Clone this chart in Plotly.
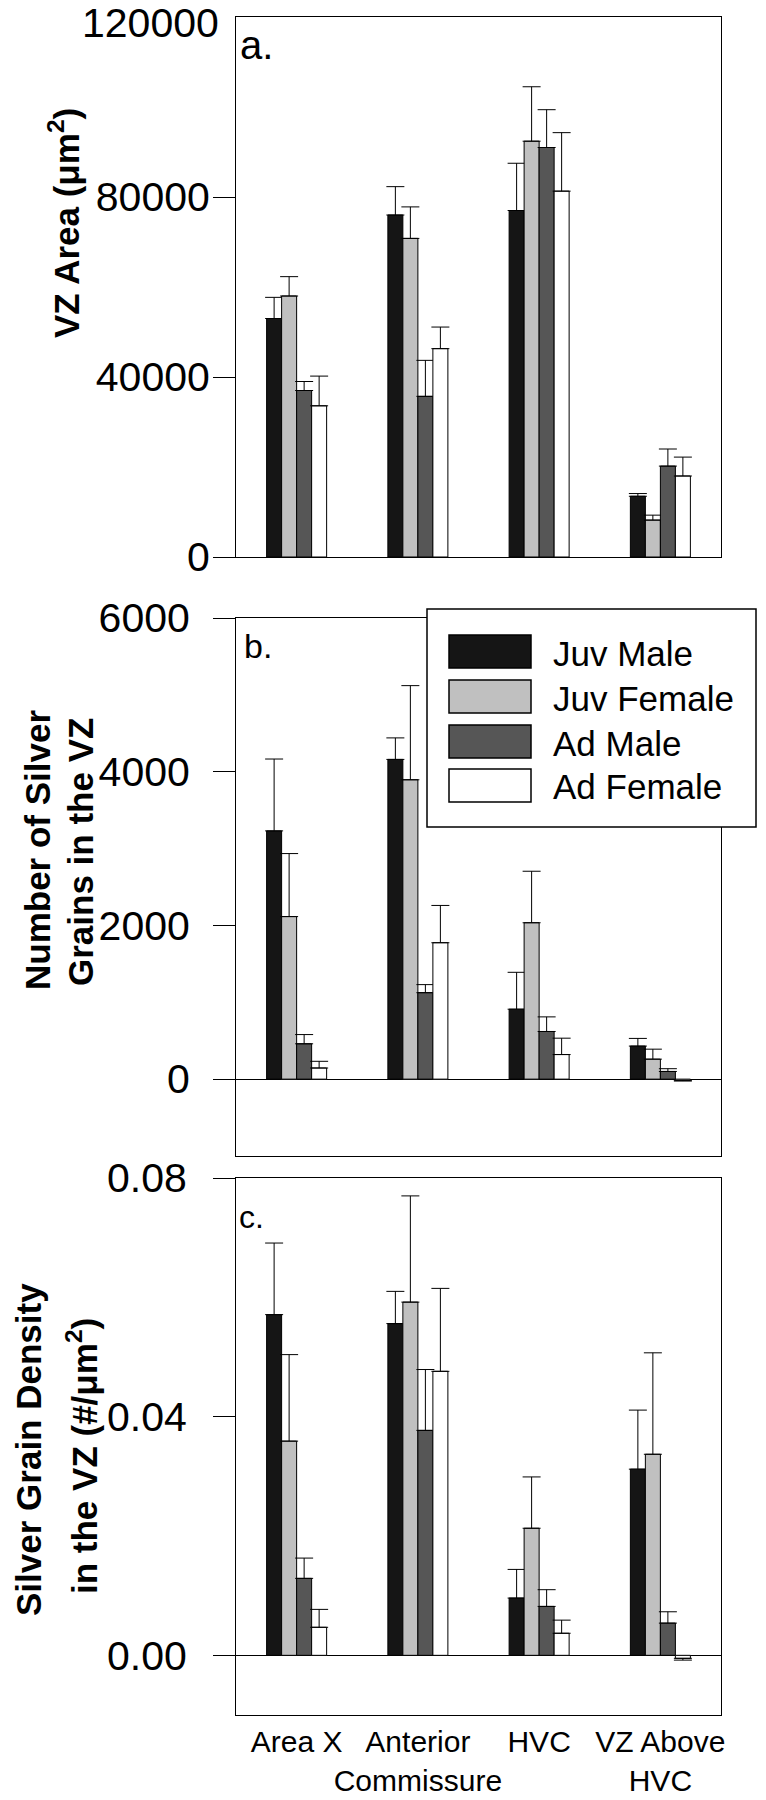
import plotly.graph_objects as go

# ---------------- data ----------------
categories = ["Area X", "Anterior Commissure", "HVC", "VZ Above HVC"]
tick_labels = ["Area X", "Anterior<br>Commissure", "HVC", "VZ Above<br>HVC"]
groups = ["Juv Male", "Juv Female", "Ad Male", "Ad Female"]

# Panel a: VZ area (um^2)
area_juv_male = [53000, 76000, 77000, 13500]
area_juv_male_err = [4700, 6300, 10500, 600]
area_juv_female = [58000, 70800, 92400, 8200]
area_juv_female_err = [4300, 7000, 12100, 1100]
area_ad_male = [37000, 35700, 91000, 20200]
area_ad_male_err = [2000, 8000, 8400, 3800]
area_ad_female = [33600, 46300, 81300, 18000]
area_ad_female_err = [6600, 4800, 13000, 4200]

# Panel b: number of silver grains in the VZ
grains_juv_male = [3230, 4160, 910, 430]
grains_juv_male_err = [935, 280, 480, 100]
grains_juv_female = [2115, 3895, 2035, 260]
grains_juv_female_err = [820, 1225, 670, 130]
grains_ad_male = [460, 1125, 620, 100]
grains_ad_male_err = [120, 105, 190, 36]
grains_ad_female = [145, 1775, 320, -15]
grains_ad_female_err = [87, 485, 213, 10]

# Panel c: silver grain density (#/um^2)
density_juv_male = [0.0571, 0.0556, 0.0096, 0.0312]
density_juv_male_err = [0.0120, 0.0054, 0.0048, 0.0099]
density_juv_female = [0.0359, 0.0592, 0.0213, 0.0337]
density_juv_female_err = [0.0145, 0.0178, 0.0086, 0.0170]
density_ad_male = [0.0129, 0.0377, 0.0082, 0.0054]
density_ad_male_err = [0.0034, 0.0102, 0.0028, 0.0019]
density_ad_female = [0.0047, 0.0476, 0.0037, -0.0005]
density_ad_female_err = [0.0030, 0.0139, 0.0022, 0.0003]

area_ticks = [0, 40000, 80000, 120000]
area_ticktext = ["0", "40000", "80000", "120000"]
grains_ticks = [0, 2000, 4000, 6000]
grains_ticktext = ["0", "2000", "4000", "6000"]
density_ticks = [0.0, 0.04, 0.08]
density_ticktext = ["0.00", "0.04", "0.08"]

# ---------------- style ----------------
W, H = 766, 1800
OFF = 8  # page body margin offset of the figure div
FONT = "Liberation Sans, Arial, Helvetica, sans-serif"
colors = ["#151515", "#c0c0c0", "#565656", "#ffffff"]

def px(x):
    return (x - OFF) / W

def py(y):
    return 1 - (y - OFF) / H

# label_len: length of the (invisible) tick that sets the label gap
# n_main: how many of the tick labels sit on the main axis (rest go on a shifted label axis)
panels = [
    dict(vals=[area_juv_male, area_juv_female, area_ad_male, area_ad_female],
         errs=[area_juv_male_err, area_juv_female_err, area_ad_male_err, area_ad_female_err],
         top=17, bottom=557, rng=[0, 120000], tv=area_ticks, tt=area_ticktext,
         label_len=17, n_main=3),
    dict(vals=[grains_juv_male, grains_juv_female, grains_ad_male, grains_ad_female],
         errs=[grains_juv_male_err, grains_juv_female_err, grains_ad_male_err, grains_ad_female_err],
         top=618, bottom=1156, rng=[-1000, 6000], tv=grains_ticks, tt=grains_ticktext,
         label_len=37, n_main=4),
    dict(vals=[density_juv_male, density_juv_female, density_ad_male, density_ad_female],
         errs=[density_juv_male_err, density_juv_female_err, density_ad_male_err, density_ad_female_err],
         top=1178, bottom=1715, rng=[-0.01, 0.08], tv=density_ticks, tt=density_ticktext,
         label_len=40, n_main=3),
]

fig = go.Figure()
layout = dict(
    template="none",
    width=W, height=H,
    margin=dict(l=0, r=0, t=0, b=0, pad=0),
    paper_bgcolor="white", plot_bgcolor="white",
    barmode="group", bargap=0.505, bargroupgap=0,
    showlegend=False,
    font=dict(family=FONT, color="black"),
)

XL, XR = 236, 721
extra = 4
for i, p in enumerate(panels):
    sfx = "" if i == 0 else str(i + 1)
    xa, ya = "x" + sfx, "y" + sfx
    for g in range(4):
        vals = p["vals"][g]
        errs = p["errs"][g]
        up = [e if v >= 0 else 0 for v, e in zip(vals, errs)]
        dn = [0 if v >= 0 else e for v, e in zip(vals, errs)]
        fig.add_trace(go.Bar(
            x=categories, y=vals, name=groups[g], xaxis=xa, yaxis=ya,
            marker=dict(color=colors[g], line=dict(color="black", width=1)),
            error_y=dict(type="data", symmetric=False, array=up, arrayminus=dn,
                         color="black", thickness=1, width=9),
            showlegend=False,
        ))
    last = (i == 2)
    layout["xaxis" + sfx] = dict(
        domain=[px(XL), px(XR)], anchor=ya, type="category",
        categoryorder="array", categoryarray=categories,
        range=[-0.5, 3.5], showline=True, linecolor="black", linewidth=1,
        mirror=True, ticks="", showgrid=False, zeroline=False,
        showticklabels=last, automargin=False, tickangle=0,
        ticklabeloverflow="allow",
        tickmode="array", tickvals=categories, ticktext=tick_labels,
        tickfont=dict(size=30, family=FONT, color="black"),
    )
    dom = [py(p["bottom"]), py(p["top"])]
    nm = p["n_main"]
    layout["yaxis" + sfx] = dict(
        domain=dom, anchor=xa,
        range=p["rng"], showline=True, linecolor="black", linewidth=1,
        mirror=True, ticks="outside", ticklen=p["label_len"],
        tickcolor="rgba(0,0,0,0)",
        tickwidth=1, showgrid=False, automargin=False,
        ticklabeloverflow="allow",
        zeroline=True, zerolinecolor="black", zerolinewidth=1,
        tickmode="array", tickvals=p["tv"][:nm], ticktext=p["tt"][:nm],
        tickfont=dict(size=41, family=FONT, color="black"),
    )
    # overlay axis that draws the visible tick marks
    tick_ax = str(extra)
    extra += 1
    fig.add_trace(go.Scatter(x=[], y=[], xaxis=xa, yaxis="y" + tick_ax,
                             showlegend=False, hoverinfo="skip"))
    layout["yaxis" + tick_ax] = dict(
        domain=dom, anchor=xa, overlaying=ya, side="left",
        range=p["rng"], showline=False, showgrid=False, zeroline=False,
        ticks="outside", ticklen=22, tickcolor="black", tickwidth=1,
        tickmode="array", tickvals=p["tv"][:nm], showticklabels=False,
        automargin=False,
    )
    # overlay axis for the top label, nudged down so it stays on the page
    if nm < len(p["tv"]):
        lab_ax = str(extra)
        extra += 1
        fig.add_trace(go.Scatter(x=[], y=[], xaxis=xa, yaxis="y" + lab_ax,
                                 showlegend=False, hoverinfo="skip"))
        layout["yaxis" + lab_ax] = dict(
            domain=dom, anchor=xa, overlaying=ya, side="left",
            range=p["rng"], showline=False, showgrid=False, zeroline=False,
            ticks="outside", ticklen=8, tickcolor="rgba(0,0,0,0)",
            tickmode="array", tickvals=p["tv"][nm:], ticktext=p["tt"][nm:],
            ticklabelshift=6, ticklabeloverflow="allow",
            tickfont=dict(size=41, family=FONT, color="black"),
            automargin=False,
        )

annotations = []
shapes = []

# panel letters: (text, left x, baseline y, font size)
for txt, xx, base, fs in [("a.", 238, 60, 40), ("b.", 242, 658, 34), ("c.", 237, 1228, 32)]:
    top = base - 0.95 * fs - 1
    annotations.append(dict(text=txt, x=px(xx), y=py(top), xref="paper", yref="paper",
                            xanchor="left", yanchor="top", showarrow=False,
                            font=dict(size=fs, family=FONT, color="black")))

# y axis titles (rotated)
def ytitle(text, x, y):
    annotations.append(dict(text=text, x=px(x), y=py(y), xref="paper", yref="paper",
                            xanchor="center", yanchor="middle", textangle=-90,
                            showarrow=False,
                            font=dict(size=35, family=FONT, color="black", weight="bold")))

ytitle("VZ Area (\u03bcm<sup>2</sup>)", 64, 223)
ytitle("Number of Silver", 37, 850)
ytitle("Grains in the VZ", 80, 852)
ytitle("Silver Grain Density", 28, 1450)
ytitle("in the VZ (#/\u03bcm<sup>2</sup>)", 82, 1456)

# legend box (panel b)
shapes.append(dict(type="rect", xref="paper", yref="paper",
                   x0=px(427), x1=px(756), y0=py(827), y1=py(609),
                   fillcolor="white", line=dict(color="black", width=1.5), layer="above"))
row_tops = [635, 680, 725, 769]
for g in range(4):
    t = row_tops[g]
    shapes.append(dict(type="rect", xref="paper", yref="paper",
                       x0=px(449), x1=px(531), y0=py(t + 33), y1=py(t),
                       fillcolor=colors[g], line=dict(color="black", width=1.5), layer="above"))
    annotations.append(dict(text=groups[g], x=px(551), y=py(t + 18), xref="paper", yref="paper",
                            xanchor="left", yanchor="middle", showarrow=False,
                            font=dict(size=35, family=FONT, color="black")))

layout["annotations"] = annotations
layout["shapes"] = shapes
fig.update_layout(**layout)

fig.write_html("out.html")
